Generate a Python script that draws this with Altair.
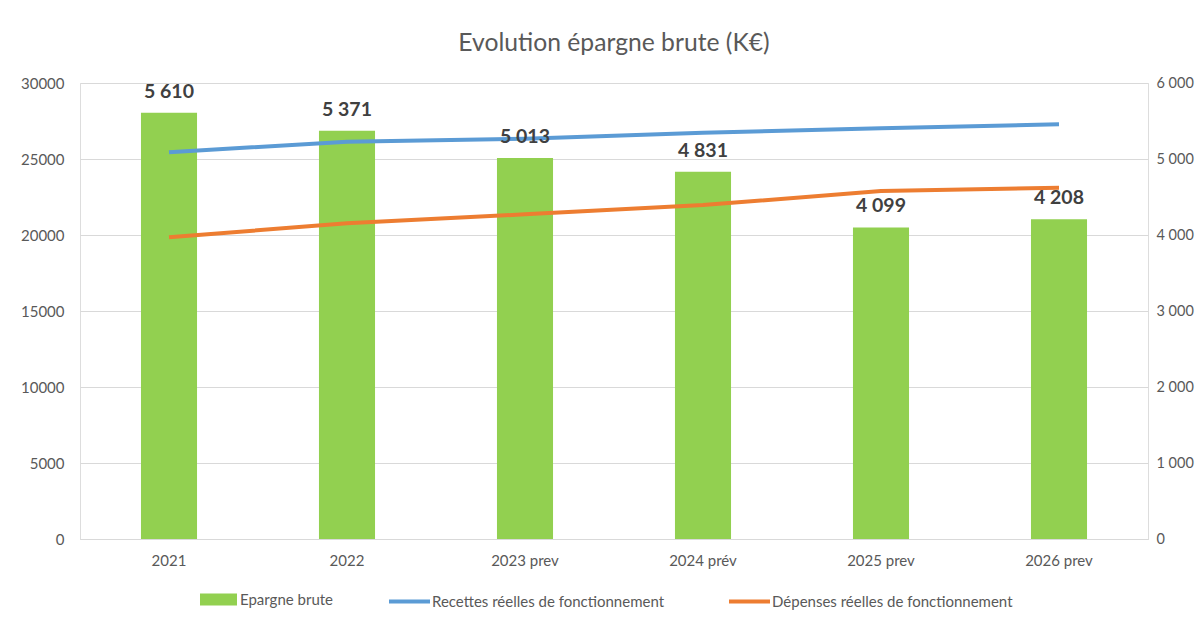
import altair as alt
import pandas as pd

years = ["2021", "2022", "2023 prev", "2024 prév", "2025 prev", "2026 prev"]
epargne = [5610, 5371, 5013, 4831, 4099, 4208]
recettes = [25440, 26140, 26340, 26730, 27020, 27280]
depenses = [19850, 20770, 21360, 21970, 22890, 23110]

S_EP = "Epargne brute"
S_RE = "Recettes réelles de fonctionnement"
S_DE = "Dépenses réelles de fonctionnement"

df = pd.DataFrame({"year": years, "epargne": epargne,
                   "recettes": recettes, "depenses": depenses,
                   "s_ep": [S_EP] * 6, "s_re": [S_RE] * 6, "s_de": [S_DE] * 6})

FONT = "Lato"
GREY = "#595959"


def leg(x, y, symbol, size, sw, off):
    return alt.Legend(title=None, orient="none", legendX=x, legendY=y,
                      symbolType=symbol, symbolSize=size, symbolStrokeWidth=sw,
                      labelOffset=off, labelFont=FONT, labelFontSize=15,
                      labelColor=GREY, padding=0, labelLimit=500)


x_enc = alt.X("year:N", sort=years, title=None,
              scale=alt.Scale(paddingInner=0.685, paddingOuter=0.3425),
              axis=alt.Axis(labelAngle=0, ticks=False, domainColor="#d9d9d9",
                            labelFont=FONT, labelFontSize=15, labelColor=GREY,
                            labelPadding=14, grid=False))

base = alt.Chart(df)

bars = base.mark_bar().encode(
    x=x_enc,
    y=alt.Y("epargne:Q", title=None,
            scale=alt.Scale(domain=[0, 6000], nice=False),
            axis=alt.Axis(orient="right", values=[0, 1000, 2000, 3000, 4000, 5000, 6000],
                          labelExpr="replace(format(datum.value, ','), ',', ' ')",
                          ticks=False, domain=False, grid=False,
                          labelFont=FONT, labelFontSize=14.5, labelColor=GREY,
                          labelPadding=8)),
    color=alt.Color("s_ep:N",
                    scale=alt.Scale(domain=[S_EP], range=["#92D050"]),
                    legend=leg(120, 498, "M-1,-0.33H1V0.33H-1Z", 1369, 0, 3)),
)

line_r = base.mark_line(strokeWidth=4).encode(
    x=x_enc,
    y=alt.Y("recettes:Q", title=None,
            scale=alt.Scale(domain=[0, 30000], nice=False),
            axis=alt.Axis(orient="left", values=[0, 5000, 10000, 15000, 20000, 25000, 30000],
                          format="d", ticks=False, domain=False, grid=True,
                          gridColor="#d9d9d9", gridWidth=1,
                          labelFont=FONT, labelFontSize=15, labelColor=GREY,
                          labelPadding=16)),
    color=alt.Color("s_re:N",
                    scale=alt.Scale(domain=[S_RE], range=["#5B9BD5"]),
                    legend=leg(307, 496, "stroke", 1681, 4, 0)),
)

line_d = base.mark_line(strokeWidth=4).encode(
    x=x_enc,
    y=alt.Y("depenses:Q", title=None,
            scale=alt.Scale(domain=[0, 30000], nice=False), axis=None),
    color=alt.Color("s_de:N",
                    scale=alt.Scale(domain=[S_DE], range=["#ED7D31"]),
                    legend=leg(647, 496, "stroke", 1681, 4, 0)),
)

labels = base.transform_calculate(
    lab="replace(format(datum.epargne, ','), ',', ' ')"
).mark_text(font=FONT, fontSize=19.5, fontWeight="bold", color="#404040",
            baseline="bottom", dy=-11).encode(
    x=x_enc,
    y=alt.Y("epargne:Q", title=None,
            scale=alt.Scale(domain=[0, 6000], nice=False), axis=None),
    text="lab:N",
)

chart = alt.layer(bars, line_r, line_d, labels).resolve_scale(
    y="independent", color="independent"
).properties(
    width=1068, height=456,
    autosize=alt.AutoSizeParams(type="none"),
    padding={"left": 72, "top": 75, "right": 47, "bottom": 73},
    title=alt.TitleParams("Evolution épargne brute (K€)", font=FONT, fontSize=24.7,
                          fontWeight="normal", color=GREY, anchor="middle", offset=19),
).configure_view(stroke=None).configure(background="white")

chart.save("out.html", embed_options={"renderer": "svg", "actions": False})
